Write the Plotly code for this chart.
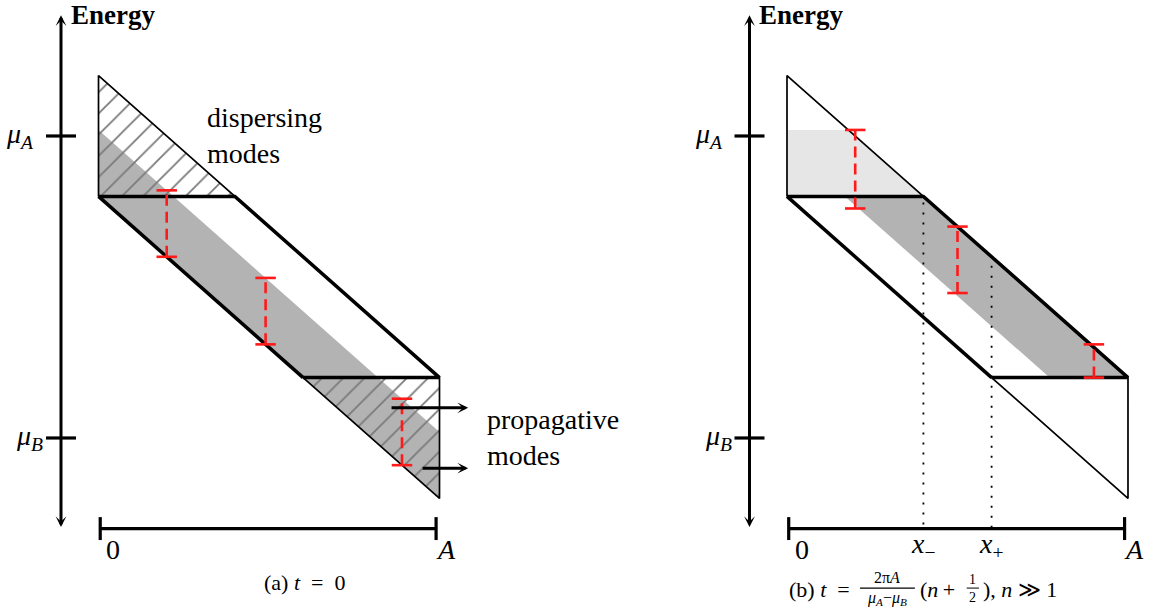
import plotly.graph_objects as go

# Energy in units where mu_B = 0 and mu_A = 1; position runs from 0 to A = 1
MU_A = 1.0
MU_B = 0.0
A_LEN = 1.0

# corners of the band of states
E_TOP = 1.2
E_UPPER_FLAT = 0.8
E_LOWER_FLAT = 0.2
E_BOTTOM = -0.2
X_KINK_UPPER = 0.4
X_KINK_LOWER = 0.6

# occupied stripe at t = 0: between the lower edge and E = 1.02 - x
STRIPE_TOP_AT_0 = 1.02
# occupied regions at the later time
LIGHT_CUT_E = 1.02
DARK_LOWER_AT_0 = 0.97   # lower edge of the dark stripe: E = 0.97 - x

# red width markers
bars_a_x = [0.20, 0.49, 0.89]
bars_a_lo = [0.60, 0.31, -0.09]
bars_a_hi = [0.82, 0.53, 0.13]
bars_b_x = [0.20, 0.50, 0.90]
bars_b_lo = [0.76, 0.48, 0.20]
bars_b_hi = [1.02, 0.70, 0.31]

# dotted guides at x_- and x_+
dot_x = [0.4, 0.6]
dot_top = [0.78, 0.57]
dot_labels = ["<i>x</i><sub>−</sub>", "<i>x</i><sub>+</sub>"]

# outgoing arrows (start x, end x, energy)
prop_start = [0.855, 0.946]
prop_end = [1.084, 1.084]
prop_e = [0.10, -0.10]

# axis furniture
AXIS_X = -0.11
AXIS_E_LOW = -0.30
AXIS_E_HIGH = 1.40
TICK_HALF = 0.044
END_TICK_HALF = 0.038
CAP_HALF = 0.03

FONT = "Liberation Serif, Times New Roman, serif"
GRAY = "#b3b3b3"
LIGHT = "#e6e6e6"
HATCH = "#7a7a7a"
RED = "#ff1a1a"

fig = go.Figure()


def upper_line(x):
    return E_TOP - x


def lower_line(x):
    return E_UPPER_FLAT - x


def poly(xs, ys, xa, ya, fillcolor, pattern=None):
    kw = dict(x=list(xs) + [xs[0]], y=list(ys) + [ys[0]], mode="lines",
              line=dict(width=0), fill="toself", fillcolor=fillcolor,
              xaxis=xa, yaxis=ya, hoverinfo="skip", showlegend=False)
    if pattern:
        kw["fillpattern"] = pattern
    fig.add_trace(go.Scatter(**kw))


def path(xs, ys, xa, ya, width, color="black", dash=None):
    fig.add_trace(go.Scatter(x=xs, y=ys, mode="lines",
                             line=dict(width=width, color=color, dash=dash),
                             xaxis=xa, yaxis=ya, hoverinfo="skip", showlegend=False))


def label(x, y, text, xr, yr, size, xanchor="center", align="center"):
    fig.add_annotation(x=x, y=y, text=text, xref=xr, yref=yr, showarrow=False,
                       xanchor=xanchor, yanchor="middle", align=align,
                       font=dict(family=FONT, size=size, color="black"))


hatch = dict(shape="/", fgcolor=HATCH, bgcolor="rgba(0,0,0,0)", size=15,
             solidity=0.12, fillmode="replace")


def outline(xa, ya):
    # thin edges
    path([0, 0, X_KINK_UPPER], [E_UPPER_FLAT, E_TOP, E_UPPER_FLAT], xa, ya, 1.7)
    path([X_KINK_LOWER, A_LEN, A_LEN], [E_LOWER_FLAT, E_BOTTOM, E_LOWER_FLAT], xa, ya, 1.7)
    # thick edges
    path([0, X_KINK_UPPER, A_LEN, X_KINK_LOWER],
         [E_UPPER_FLAT, E_UPPER_FLAT, upper_line(A_LEN), E_LOWER_FLAT], xa, ya, 3.5)
    path([0, X_KINK_LOWER], [lower_line(0), lower_line(X_KINK_LOWER)], xa, ya, 3.5)


def markers(xs, los, his, xa, ya):
    for x, lo, hi in zip(xs, los, his):
        path([x, x], [lo, hi], xa, ya, 2.6, RED, "11px,6px")
        path([x - CAP_HALF, x + CAP_HALF, None, x - CAP_HALF, x + CAP_HALF],
             [lo, lo, None, hi, hi], xa, ya, 2.6, RED)


def axes(xa, ya, xr, yr):
    # position axis
    path([0.005, 0.99], [AXIS_E_LOW, AXIS_E_LOW], xa, ya, 3.2)
    for xe in (0.005, 0.99):
        path([xe, xe], [AXIS_E_LOW - END_TICK_HALF, AXIS_E_LOW + END_TICK_HALF], xa, ya, 3.2)
    # energy ticks
    for e in (MU_A, MU_B):
        path([AXIS_X - TICK_HALF, AXIS_X + TICK_HALF], [e, e], xa, ya, 3.2)
    # energy axis, arrows at both ends
    fig.add_annotation(x=AXIS_X, y=AXIS_E_HIGH, ax=AXIS_X, ay=AXIS_E_LOW,
                       xref=xr, yref=yr, axref=xr, ayref=yr, text="",
                       showarrow=True, arrowside="end+start", arrowhead=3,
                       startarrowhead=3, arrowsize=0.6, startarrowsize=0.6,
                       arrowwidth=3, arrowcolor="black")
    label(AXIS_X + 0.022, AXIS_E_HIGH, "<b>Energy</b>", xr, yr, 27, "left")
    label(-0.183, MU_A, "<i>μ</i><sub><i>A</i></sub>", xr, yr, 28, "right")
    label(-0.156, MU_B, "<i>μ</i><sub><i>B</i></sub>", xr, yr, 28, "right")
    label(0.043, -0.37, "0", xr, yr, 28)
    label(1.018, -0.37, "<i>A</i>", xr, yr, 28)


# ---------- panel (a): t = 0 ----------
xa, ya = "x", "y"
poly([0, 0, A_LEN, A_LEN],
     [lower_line(0), STRIPE_TOP_AT_0, STRIPE_TOP_AT_0 - A_LEN, lower_line(A_LEN)],
     xa, ya, GRAY)
poly([0, 0, X_KINK_UPPER], [E_TOP, E_UPPER_FLAT, E_UPPER_FLAT], xa, ya,
     "rgba(0,0,0,0)", hatch)
poly([X_KINK_LOWER, A_LEN, A_LEN], [E_LOWER_FLAT, E_LOWER_FLAT, E_BOTTOM], xa, ya,
     "rgba(0,0,0,0)", hatch)
outline(xa, ya)
markers(bars_a_x, bars_a_lo, bars_a_hi, xa, ya)
for xs, xe, e in zip(prop_start, prop_end, prop_e):
    fig.add_annotation(x=xe, y=e, ax=xs, ay=e, xref="x", yref="y", axref="x", ayref="y",
                       text="", showarrow=True, arrowhead=3, arrowsize=0.6,
                       arrowwidth=3, arrowcolor="black")
axes(xa, ya, "x", "y")
label(0.312, 1.0, "dispersing<br>modes", "x", "y", 28, "left", "left")
label(1.133, 0.0, "propagative<br>modes", "x", "y", 28, "left", "left")
label(0.605, -0.48, "(a) <i>t</i>\u2002=\u20020", "x", "y", 22)

# ---------- panel (b): later time ----------
xa, ya = "x2", "y2"
x_cut = E_TOP - LIGHT_CUT_E
poly([0, 0, x_cut, X_KINK_UPPER],
     [E_UPPER_FLAT, LIGHT_CUT_E, LIGHT_CUT_E, E_UPPER_FLAT], xa, ya, LIGHT)
poly([DARK_LOWER_AT_0 - E_UPPER_FLAT, X_KINK_UPPER, A_LEN, DARK_LOWER_AT_0 - E_LOWER_FLAT],
     [E_UPPER_FLAT, E_UPPER_FLAT, E_LOWER_FLAT, E_LOWER_FLAT], xa, ya, GRAY)
for x, top in zip(dot_x, dot_top):
    path([x, x], [top, AXIS_E_LOW], xa, ya, 1.8, "black", "2px,8px")
outline(xa, ya)
markers(bars_b_x, bars_b_lo, bars_b_hi, xa, ya)
axes(xa, ya, "x2", "y2")
for x, lab in zip(dot_x, dot_labels):
    label(x, -0.355, lab, "x2", "y2", 28)

# caption (b) with stacked fractions
CAP_E = -0.503
label(0.0, CAP_E, "(b) <i>t</i>\u2002=", "x2", "y2", 22, "left")
label(0.293, -0.462, "2π<i>A</i>", "x2", "y2", 16)
label(0.293, -0.533, "<i>μ</i><sub><i>A</i></sub>−<i>μ</i><sub><i>B</i></sub>", "x2", "y2", 16)
path([0.214, 0.375], [-0.497, -0.497], xa, ya, 1.1)
label(0.384, CAP_E, "(<i>n</i>\u2009+", "x2", "y2", 22, "left")
label(0.545, -0.468, "1", "x2", "y2", 14)
label(0.545, -0.528, "2", "x2", "y2", 14)
path([0.527, 0.563], [-0.497, -0.497], xa, ya, 1.0)
label(0.57, CAP_E, "), <i>n</i> ≫ 1", "x2", "y2", 22, "left")

# ---------- layout ----------
E_RANGE = [-0.5762, 1.4503]
fig.update_layout(
    width=1152, height=612,
    margin=dict(l=0, r=0, t=0, b=0),
    paper_bgcolor="white", plot_bgcolor="white",
    font=dict(family=FONT, color="black"),
    showlegend=False,
    xaxis=dict(domain=[0, 0.5], range=[-0.2889, 1.4003], visible=False, anchor="y"),
    yaxis=dict(domain=[0, 1], range=E_RANGE, visible=False, anchor="x"),
    xaxis2=dict(domain=[0.5, 1], range=[-0.6188, 1.0704], visible=False, anchor="y2"),
    yaxis2=dict(domain=[0, 1], range=E_RANGE, visible=False, anchor="x2"),
)

fig.write_html("out.html")
